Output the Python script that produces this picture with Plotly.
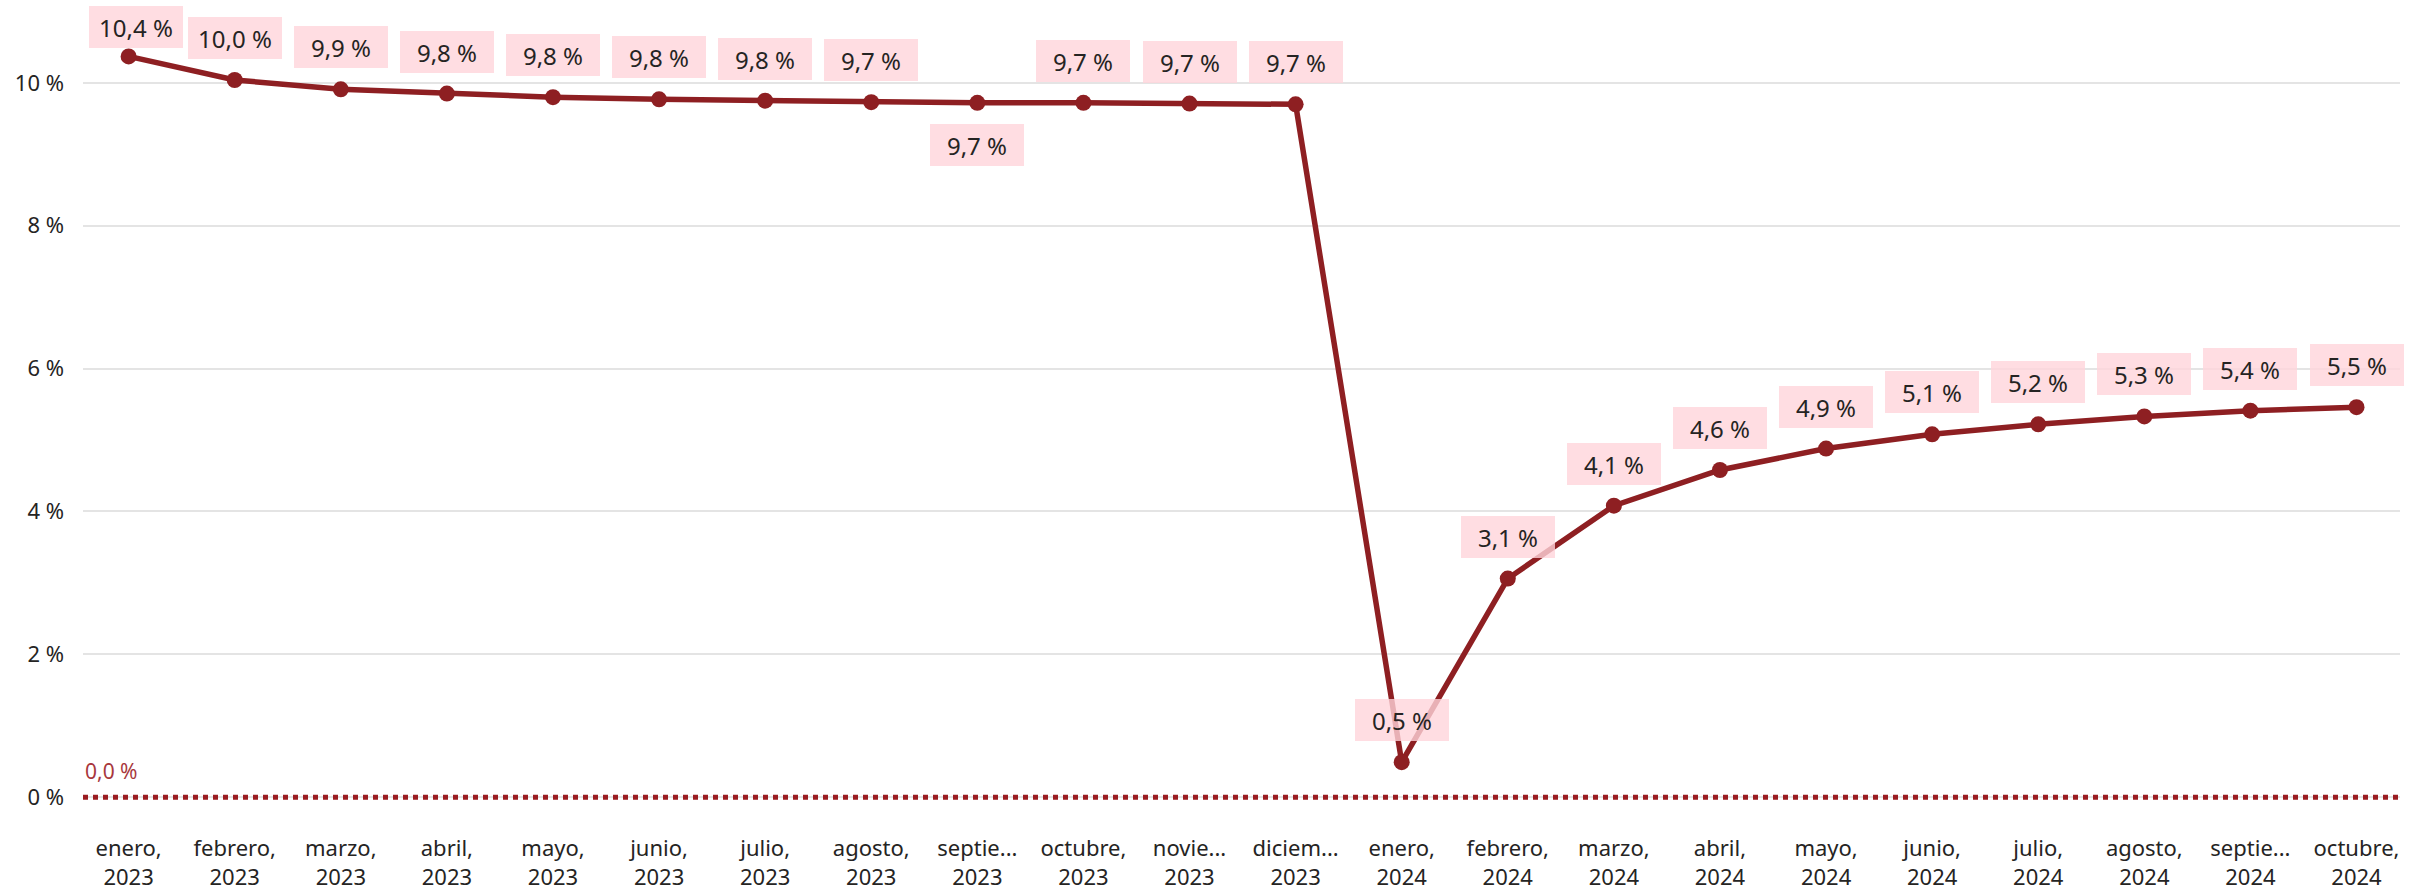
import plotly.graph_objects as go

months = ["enero,", "febrero,", "marzo,", "abril,", "mayo,", "junio,", "julio,", "agosto,",
          "septie...", "octubre,", "novie...", "diciem...",
          "enero,", "febrero,", "marzo,", "abril,", "mayo,", "junio,", "julio,", "agosto,",
          "septie...", "octubre,"]
years = ["2023"] * 12 + ["2024"] * 10
values = [10.37, 10.04, 9.91, 9.85, 9.80, 9.77, 9.75, 9.73, 9.72, 9.72, 9.71, 9.70,
          0.49, 3.06, 4.08, 4.58, 4.88, 5.08, 5.22, 5.33, 5.41, 5.46]
label_side = ["above"] * 8 + ["below"] + ["above"] * 13
y_ticks = [0, 2, 4, 6, 8, 10]
y_tick_text = ["0 %", "2 %", "4 %", "6 %", "8 %", "10 %"]

categories = [f"{m}<br>{y}" for m, y in zip(months, years)]
xs = list(range(len(values)))

LINE = "#8E1F22"
FONT = "Segoe UI, Noto Sans, sans-serif"
TXT = "#252423"

W, H = 2431, 890
mt, mb, ml, mr = 0, 65, 83, 31
ymin, ymax = -0.39, 11.16
plot_h = H - mt - mb


def ypx(v):
    return mt + (ymax - v) / (ymax - ymin) * plot_h


fig = go.Figure()
fig.add_trace(go.Scatter(
    x=xs, y=values, mode="lines+markers",
    line=dict(color=LINE, width=5.5),
    marker=dict(color=LINE, size=16),
    hoverinfo="skip", showlegend=False,
))

def fmt(v):
    return f"{v:.1f}".replace(".", ",") + " %"

for x, v, side in zip(xs, values, label_side):
    p = ypx(v)
    if side == "above":
        shift = min(42, p - 27)
    else:
        shift = -42
    xshift = 7 if x == 0 else 0
    fig.add_annotation(
        x=x, y=v, text=fmt(v), showarrow=False, yshift=shift, xshift=xshift,
        font=dict(family=FONT, size=24, color=TXT),
        bgcolor="rgba(255,212,219,0.8)", width=90, height=38, borderpad=2,
        borderwidth=0,
    )

# zero reference line
fig.add_shape(type="line", xref="paper", yref="y", x0=0, x1=1, y0=0, y1=0,
              line=dict(color="#9B1C21", width=5, dash="dot"), layer="above")
fig.add_annotation(xref="paper", yref="y", x=0, y=0, text="0,0 %", showarrow=False,
                   xanchor="left", yanchor="bottom", xshift=0, yshift=10,
                   font=dict(family=FONT, size=21, color="#A8383C"))

fig.update_layout(
    width=W, height=H,
    margin=dict(t=mt, b=mb, l=ml, r=mr),
    plot_bgcolor="white", paper_bgcolor="white",
    font=dict(family=FONT, color=TXT),
    xaxis=dict(
        tickmode="array", tickvals=xs, ticktext=categories,
        range=[-0.43, 21.41], showgrid=False, zeroline=False, showline=False,
        tickfont=dict(family=FONT, size=22, color=TXT), ticks="", ticklabelstandoff=8,
    ),
    yaxis=dict(
        tickmode="array", tickvals=y_ticks, ticktext=y_tick_text,
        range=[ymin, ymax], showgrid=True, gridcolor="#E4E4E4", gridwidth=1.5,
        zeroline=False, showline=False,
        tickfont=dict(family=FONT, size=22, color=TXT), ticks="", ticklabelstandoff=18,
    ),
)

fig.write_html("out.html", config={"displayModeBar": False},
               post_script="document.body.style.margin='0';document.body.style.overflow='hidden';")
